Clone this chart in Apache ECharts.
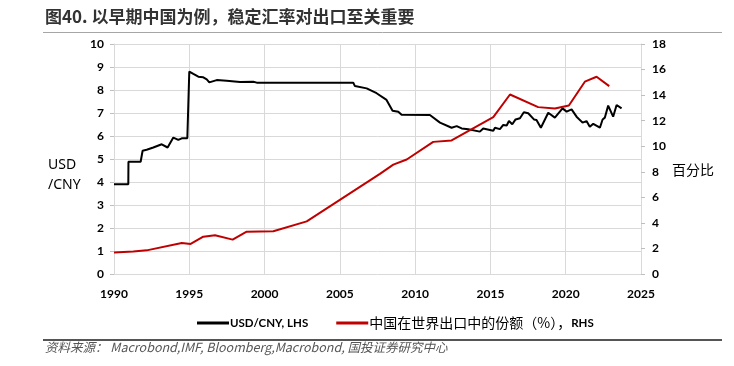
<!DOCTYPE html>
<html lang="zh">
<head>
<meta charset="UTF-8" />
<title>图40</title>
<style>
  html, body { margin: 0; padding: 0; background: #fff; }
  #chart { width: 734px; height: 366px; }
</style>
</head>
<body>
<div id="chart"></div>
<script src="https://cdn.jsdelivr.net/npm/echarts@6/dist/echarts.min.js"></script>
<script>
// USD/CNY (left axis), [year, rate]
const usdCny = [
  [1990.0, 3.9], [1990.95, 3.9], [1990.96, 4.88], [1991.77, 4.88], [1991.9, 5.36],
  [1992.17, 5.4], [1992.28, 5.46], [1992.61, 5.5], [1993.17, 5.64], [1993.56, 5.5],
  [1993.94, 5.93], [1994.27, 5.83], [1994.5, 5.9], [1994.87, 5.9], [1995.0, 8.8],
  [1995.27, 8.7], [1995.6, 8.58], [1995.93, 8.55], [1996.16, 8.46], [1996.33, 8.33],
  [1996.82, 8.43], [1997.48, 8.4], [1998.37, 8.35], [1999.25, 8.36], [1999.48, 8.32],
  [2005.89, 8.32], [2006.0, 8.17], [2006.78, 8.07], [2007.44, 7.86], [2008.1, 7.57],
  [2008.5, 7.1], [2008.88, 7.05], [2009.1, 6.92], [2010.98, 6.91], [2011.65, 6.58],
  [2012.42, 6.36], [2012.76, 6.43], [2013.09, 6.33], [2013.53, 6.29], [2014.3, 6.19],
  [2014.52, 6.33], [2015.19, 6.23], [2015.3, 6.36], [2015.63, 6.3], [2015.85, 6.48],
  [2016.08, 6.46], [2016.23, 6.65], [2016.45, 6.51], [2016.67, 6.72], [2016.96, 6.77],
  [2017.22, 7.03], [2017.51, 6.99], [2017.89, 6.72], [2018.06, 6.7], [2018.35, 6.36],
  [2018.84, 7.01], [2019.28, 6.8], [2019.79, 7.2], [2020.06, 7.06], [2020.39, 7.16],
  [2020.72, 6.84], [2021.12, 6.58], [2021.38, 6.65], [2021.6, 6.4], [2021.83, 6.53],
  [2022.27, 6.36], [2022.45, 6.72], [2022.6, 6.8], [2022.82, 7.32], [2023.15, 6.84],
  [2023.38, 7.35], [2023.71, 7.2]
];

// China's share of world exports, % (right axis), [year, share]
const exportShare = [
  [1990.0, 1.68], [1991.28, 1.77], [1992.17, 1.85], [1994.5, 2.43], [1995.09, 2.35],
  [1995.93, 2.92], [1996.71, 3.03], [1997.88, 2.69], [1998.81, 3.31], [2000.58, 3.34],
  [2002.8, 4.12], [2007.66, 7.84], [2008.55, 8.56], [2009.44, 8.96], [2011.2, 10.34],
  [2012.42, 10.45], [2015.19, 12.27], [2016.3, 14.05], [2018.17, 13.06], [2019.28, 12.95],
  [2020.21, 13.19], [2021.27, 15.05], [2022.05, 15.44], [2022.89, 14.7]
];

const seriesNames = ['USD/CNY, LHS', '中国在世界出口中的份额（%），RHS'];

const chart = echarts.init(document.getElementById('chart'));
const tickFont = { color: '#000', fontSize: 12, fontWeight: 'bold', fontFamily: 'Lato' };
const gridGrey = '#d9d9d9';

chart.setOption({
  animation: false,
  grid: { left: 114, right: 93, top: 44, bottom: 92 },
  legend: {
    data: seriesNames,
    left: 192, top: 311,
    icon: 'rect', itemWidth: 32, itemHeight: 3, itemGap: 28,
    // Chinese part in a larger CJK face, Latin part in a narrow bold face
    formatter: name => name.replace(/[\u4e00-\u9fff（）%，]+/g, m => '{cn|' + m + '}')
                           .replace(/^([^{]+)$/, '{en|$1}').replace(/\}([^{]+)$/, '}{en|$1}'),
    textStyle: {
      color: '#000', padding: [0, 0, 0, -4],
      rich: {
        en: { fontSize: 11.5, fontWeight: 'bold', fontFamily: 'Lato', color: '#000' },
        cn: { fontSize: 14, fontFamily: 'Noto Sans CJK SC', color: '#000' }
      }
    }
  },
  xAxis: {
    type: 'value', min: 1990, max: 2025, interval: 5,
    axisLine: { show: false }, axisTick: { show: false },
    axisLabel: Object.assign({ margin: 14, formatter: v => String(v) }, tickFont),
    splitLine: { lineStyle: { color: gridGrey, width: 1 } }
  },
  yAxis: [
    {
      type: 'value', min: 0, max: 10, interval: 1,
      axisLine: { show: true, lineStyle: { color: gridGrey } },
      axisTick: { show: true, length: 4, lineStyle: { color: '#bfbfbf' } },
      axisLabel: Object.assign({ margin: 10 }, tickFont),
      splitLine: { lineStyle: { color: gridGrey, width: 1 } }
    },
    {
      type: 'value', min: 0, max: 18, interval: 2, position: 'right',
      axisLine: { show: true, lineStyle: { color: gridGrey } },
      axisTick: { show: true, length: 4, lineStyle: { color: '#bfbfbf' } },
      axisLabel: Object.assign({ margin: 11 }, tickFont),
      splitLine: { show: false }
    }
  ],
  series: [
    {
      name: seriesNames[0], type: 'line', yAxisIndex: 0, data: usdCny,
      showSymbol: false, itemStyle: { color: '#000' }, lineStyle: { color: '#000', width: 2 }
    },
    {
      name: seriesNames[1], type: 'line', yAxisIndex: 1, data: exportShare,
      showSymbol: false, itemStyle: { color: '#c00000' }, lineStyle: { color: '#c00000', width: 2 }
    }
  ],
  graphic: [
    { type: 'text', left: 45, top: 8,
      style: { text: '图40. 以早期中国为例，稳定汇率对出口至关重要', fill: '#333',
        font: 'bold 17px "Noto Sans CJK SC"' } },
    { type: 'line', shape: { x1: 43, y1: 32.5, x2: 722, y2: 32.5 },
      style: { stroke: '#a6a6a6', lineWidth: 1 } },
    { type: 'text', left: 48, top: 155,
      style: { text: 'USD\n/CNY', fill: '#000', font: '14px "Noto Sans"', lineHeight: 20 } },
    { type: 'text', left: 672, top: 163,
      style: { text: '百分比', fill: '#000', font: '14px "Noto Sans CJK SC"' } },
    { type: 'line', shape: { x1: 43, y1: 340, x2: 722, y2: 340 },
      style: { stroke: '#555', lineWidth: 2 } },
    { type: 'text', left: 45, top: 341,
      style: { text: '资料来源： Macrobond,IMF, Bloomberg,Macrobond, 国投证券研究中心', fill: '#555',
        font: 'italic 12.5px "Noto Sans CJK SC"' } }
  ]
});
</script>
</body>
</html>
